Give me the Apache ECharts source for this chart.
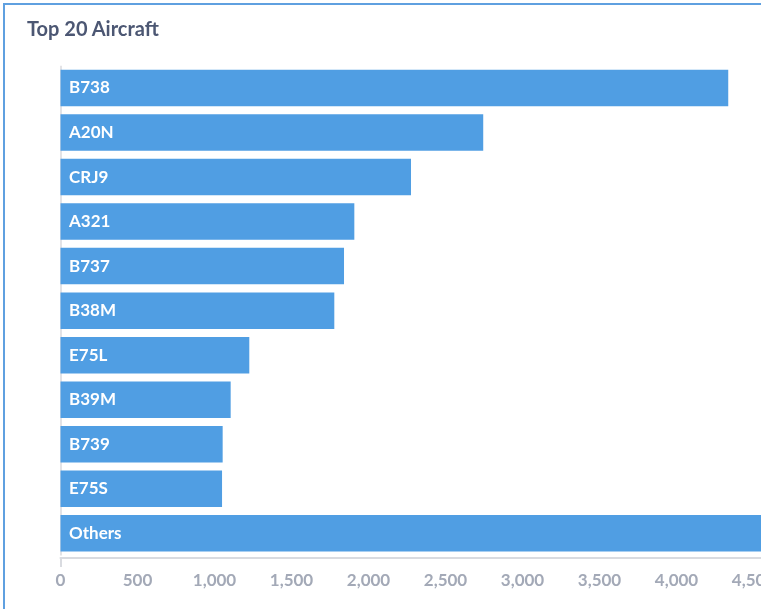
<!DOCTYPE html>
<html>
<head>
<meta charset="utf-8">
<script src="https://cdn.jsdelivr.net/npm/echarts@6/dist/echarts.min.js"></script>
<style>
  html, body { margin: 0; padding: 0; width: 761px; height: 609px; overflow: hidden; background: #fff; }
  #card { position: absolute; left: 3px; top: 3px; width: 900px; height: 700px; border: 2px solid #5fa0e0; box-sizing: border-box; }
  #title { position: absolute; left: 27px; top: 16px; font-family: Lato, sans-serif; font-weight: 700; font-size: 20px; line-height: 24px; color: #4c5773; white-space: nowrap; }
  #chart { position: absolute; left: 0; top: 0; width: 761px; height: 609px; }
</style>
</head>
<body>
<div id="card"></div>
<div id="chart"></div>
<div id="title">Top 20 Aircraft</div>
<script>
const categories = ['B738', 'A20N', 'CRJ9', 'A321', 'B737', 'B38M', 'E75L', 'B39M', 'B739', 'E75S', 'Others'];
const counts = [4336, 2745, 2276, 1908, 1841, 1778, 1226, 1105, 1053, 1049, 4900];
const xTicks = [0, 500, 1000, 1500, 2000, 2500, 3000, 3500, 4000, 4500, 5000];

const chart = echarts.init(document.getElementById('chart'), null, { renderer: 'canvas' });
chart.setOption({
  animation: false,
  grid: { left: 60.5, width: 770, top: 65.7, height: 489.9, containLabel: false, outerBoundsMode: 'none' },
  xAxis: {
    type: 'value',
    min: xTicks[0],
    max: xTicks[xTicks.length - 1],
    interval: 500,
    offset: 2.5,
    axisLine: { show: true, lineStyle: { color: '#d9dbe0', width: 2 } },
    axisTick: { show: true, customValues: [0], length: 9, lineStyle: { color: '#d9dbe0', width: 2 } },
    splitLine: { show: true, lineStyle: { color: '#e3e3e6', width: 2 } },
    axisLabel: {
      color: '#a3a9b7', fontFamily: 'Lato', fontWeight: 700, fontSize: 17, margin: 14,
      formatter: v => v.toLocaleString('en-US')
    }
  },
  yAxis: {
    type: 'category',
    data: categories,
    inverse: true,
    axisLine: { show: false },
    axisTick: { show: false },
    axisLabel: { show: false },
    splitLine: { show: false }
  },
  series: [{
    type: 'bar',
    data: counts,
    barCategoryGap: '18%',
    itemStyle: { color: '#509ee3' },
    label: {
      show: true,
      position: 'insideLeft',
      distance: 8.5,
      formatter: p => p.name,
      color: '#fff',
      fontFamily: 'Lato',
      fontWeight: 700,
      fontSize: 17
    }
  }]
});
</script>
</body>
</html>
